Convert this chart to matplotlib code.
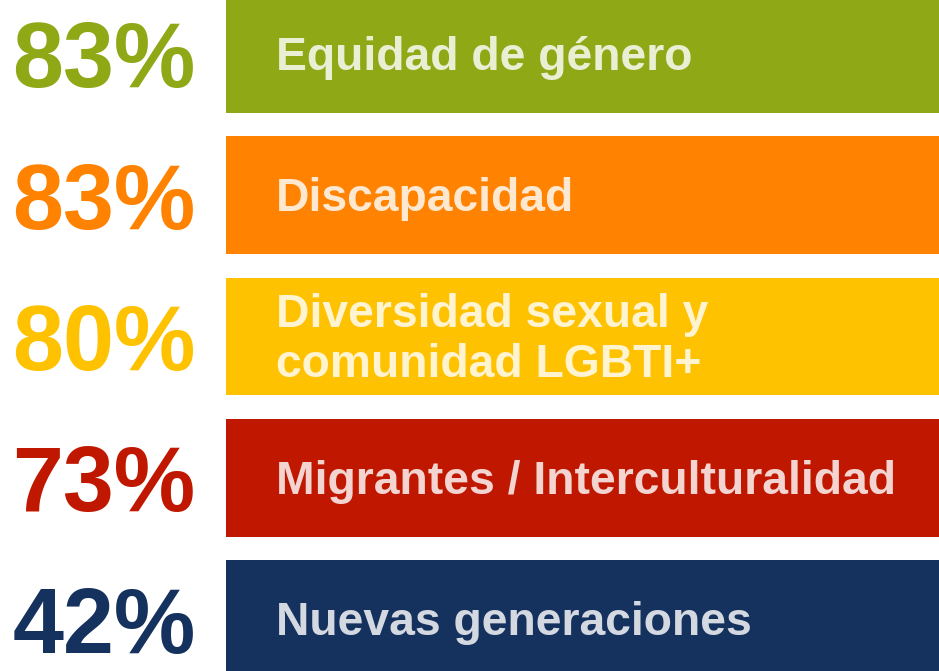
import matplotlib
matplotlib.use("Agg")
import matplotlib.pyplot as plt

categories = ["Equidad de género", "Discapacidad", "Diversidad sexual y\ncomunidad LGBTI+",
              "Migrantes / Interculturalidad", "Nuevas generaciones"]
values = [83, 83, 80, 73, 42]
colors = ["#8FA816", "#FF8200", "#FFC200", "#C01800", "#15315D"]

plt.rcParams['font.family'] = ['Liberation Sans', 'DejaVu Sans']

W, H = 939, 671
PITCH = 141.25  # pixels per category
fig = plt.figure(figsize=(W / 100, H / 100), dpi=100)
ax = fig.add_axes([0, 0, 1, 1])
ax.set_xlim(0, W)
ax.set_ylim(4.368, -0.382)
ax.axis("off")

ys = list(range(len(categories)))
ax.barh(ys, [W] * len(ys), left=226, height=0.835, color=colors)

for y, cat, v, c in zip(ys, categories, values, colors):
    ax.text(104, y + 33.5 / PITCH, f"{v}%", ha="center", va="baseline", fontsize=66,
            fontweight="bold", color=c)
    lines = cat.split("\n")
    n = len(lines)
    for i, line in enumerate(lines):
        off = 16 + (i - (n - 1) / 2) * 50
        ax.text(276, y + off / PITCH, line, ha="left", va="baseline", fontsize=33.3,
                fontweight="bold", color="white", alpha=0.82)

fig.savefig("out.png", dpi=100)
